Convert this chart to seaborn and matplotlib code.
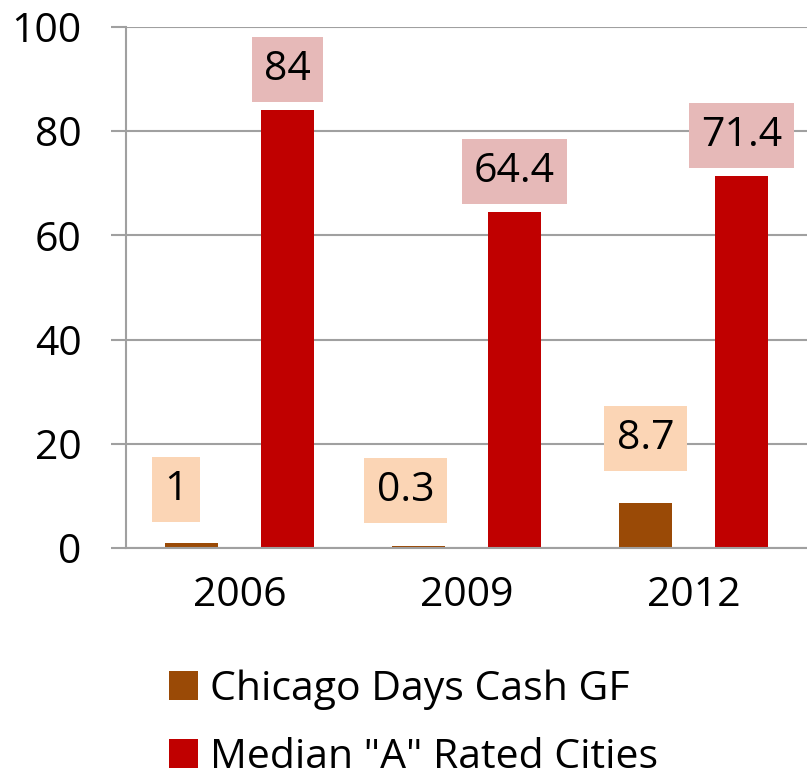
import matplotlib
matplotlib.use("Agg")
import matplotlib.pyplot as plt
import pandas as pd
import seaborn as sns
from matplotlib.patches import Patch

# Data
years = ["2006", "2009", "2012"]
chicago_days_cash = [1, 0.3, 8.7]
median_a_cities = [84, 64.4, 71.4]
series_names = ["Chicago Days Cash GF", 'Median "A" Rated Cities']

colors = ["#9A4A06", "#C00000"]
box_colors = ["#FBD5B5", "#E6B9B8"]

df = pd.DataFrame({
    "year": years * 2,
    "value": chicago_days_cash + median_a_cities,
    "series": [series_names[0]] * 3 + [series_names[1]] * 3,
})

sns.set_style("white")
plt.rcParams["font.family"] = ["Open Sans", "DejaVu Sans"]
plt.rcParams["text.color"] = "black"
FS = 29.5
GRID = "#A0A0A0"

fig = plt.figure(figsize=(8.07, 7.82), dpi=100)
ax = fig.add_axes([126 / 807, 1 - 548 / 782, 1 - 126 / 807, (548 - 27) / 782])

sns.barplot(data=df, x="year", y="value", hue="series", hue_order=series_names,
            palette=colors, saturation=1, width=0.846, gap=0.45,
            linewidth=0, legend=False, ax=ax)

ax.set_ylim(0, 100)
ax.set_xlim(-0.5, 2.5)
ax.set_yticks([0, 20, 40, 60, 80, 100])
ax.yaxis.grid(True, color=GRID, linewidth=1.5)
ax.set_axisbelow(True)
ax.set_xlabel("")
ax.set_ylabel("")

for side in ["top", "right"]:
    ax.spines[side].set_visible(False)
for side in ["left", "bottom"]:
    ax.spines[side].set_color(GRID)
    ax.spines[side].set_linewidth(1.5)

ax.set_xticks([-0.5, 0.5, 1.5, 2.5], minor=True)
ax.tick_params(axis="x", which="major", length=0, pad=20, labelsize=FS, labelcolor="black")
ax.tick_params(axis="x", which="minor", length=11, width=1.5, color=GRID, direction="out")
ax.tick_params(axis="y", length=11, width=1.5, color=GRID, pad=21, labelsize=FS,
               labelcolor="black", left=True)

# data labels with boxes
offsets = [[(-11.2, 23.8), (-9.4, 25.7), (0, 31.7)],
           [(0, 14.6), (0, 14.6), (0, 14.6)]]
for i, cont in enumerate(ax.containers):
    anns = ax.bar_label(cont, fmt="{:g}", fontsize=FS, padding=15, color="black",
                        bbox=dict(boxstyle="square,pad=0.3", fc=box_colors[i], ec="none"))
    for ann, off in zip(anns, offsets[i]):
        ann.xyann = off

handles = [Patch(facecolor=c, edgecolor="none") for c in colors]
fig.legend(handles, series_names, loc="upper left",
           bbox_to_anchor=(169 / 807, 1 - 669 / 782), frameon=False,
           fontsize=FS, handlelength=0.7, handleheight=0.7,
           handletextpad=0.3, labelspacing=0.68, borderpad=0, borderaxespad=0)

fig.savefig("out.png", dpi=100)
